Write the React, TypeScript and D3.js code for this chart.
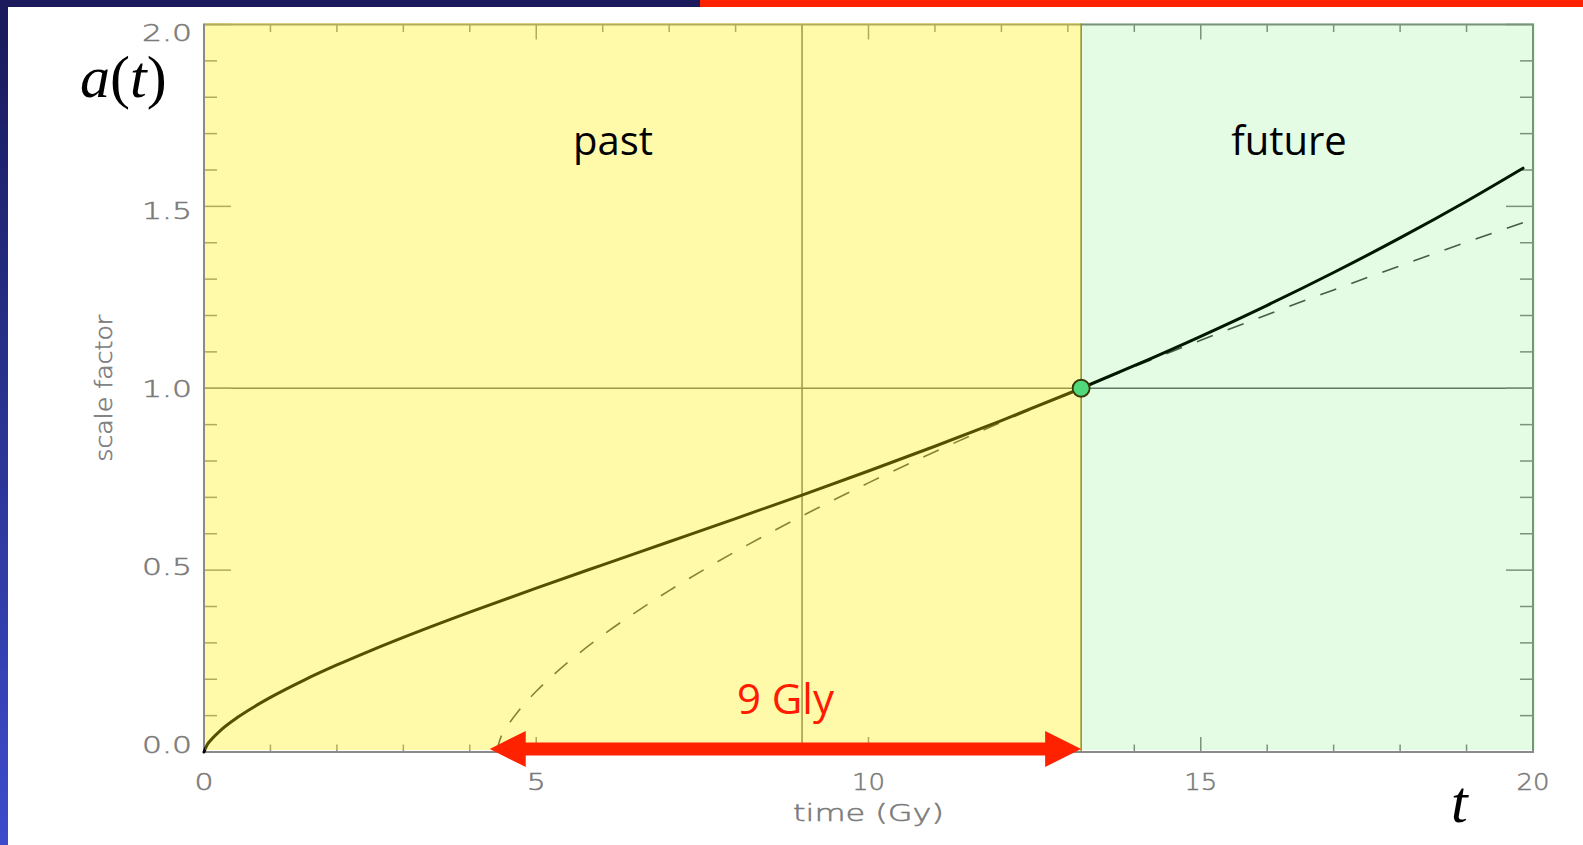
import React from 'react';
import * as d3 from 'd3';

// Scale factor of the universe, a(t), against cosmic time in Gy
const solidTime = [0, 0.05, 0.1, 0.25, 0.5, 0.75, 1, 1.5, 2, 2.5, 3, 4, 5, 6, 7, 8, 9, 10, 11, 12, 13, 13.2, 14, 15, 16, 17, 18, 19, 19.85];
const solidScale = [0, 0.0204, 0.0323, 0.0596, 0.0946, 0.1239, 0.1502, 0.1971, 0.2392, 0.2782, 0.3151, 0.3846, 0.4506, 0.5146, 0.5781, 0.6417, 0.7064, 0.7725, 0.8406, 0.9112, 0.9849, 1.0, 1.062, 1.1429, 1.2281, 1.3182, 1.4133, 1.5142, 1.605];

// Decelerating (matter-only) curve through today's point
const dashedTime = [4.4, 4.45, 4.6, 4.75, 5, 5.25, 5.5, 6, 6.5, 7, 8, 9, 10, 11, 12, 13.2, 14, 15, 16, 17, 18, 19, 20];
const dashedScale = [0, 0.0318, 0.0802, 0.1165, 0.1669, 0.2105, 0.25, 0.321, 0.3847, 0.4436, 0.5511, 0.6489, 0.7399, 0.8255, 0.9069, 1.0, 1.0597, 1.1321, 1.2023, 1.2704, 1.3367, 1.4015, 1.4648];

const today = 13.2;
const todayScale = 1.0;
const gridTime = 9;
const gridScale = 1.0;
const arrowFrom = 4.3;
const arrowTo = 13.2;

const timeDomain = [0, 20];
const scaleDomain = [0, 2];
const regionLabels = ['past', 'future'];

const W = 1583;
const H = 845;

export default function App() {
  const x = d3.scaleLinear().domain(timeDomain).range([204, 1533]);
  const y = d3.scaleLinear().domain(scaleDomain).range([752, 24.5]);
  // y tick labels sit slightly inside the extreme ticks
  const yLabel = d3.scaleLinear().domain(scaleDomain).range([745, 33]);

  const [x0, x1] = x.range();
  const [yb, yt] = y.range();

  const solidPts: [number, number][] = solidTime.map((t, i) => [t, solidScale[i]]);
  const dashedPts: [number, number][] = dashedTime.map((t, i) => [t, dashedScale[i]]);
  const line = d3
    .line<[number, number]>()
    .x((d) => x(d[0]))
    .y((d) => y(d[1]))
    .curve(d3.curveMonotoneX);

  const xMinor = x.ticks(20);
  const xMajor = x.ticks(4);
  const yMinor = y.ticks(20);
  const yMajor = y.ticks(4);
  const fmtY = d3.format('.1f');
  const fmtX = d3.format('d');

  const axisColor = '#8a8a8a';
  const tickLabelColor = '#7a7a7a';
  const xTickMajor = 15;
  const xTickMinor = 7.5;
  const yTickMajor = 27;
  const yTickMinor = 13;

  const xt = x(today);
  const arrowY = 749;
  const headLen = 36;
  const headHalf = 18;
  const shaftHalf = 6.5;
  const ax0 = x(arrowFrom);
  const ax1 = x(arrowTo);
  const arrowPath = [
    `M${ax0},${arrowY}`,
    `L${ax0 + headLen},${arrowY - headHalf}`,
    `L${ax0 + headLen},${arrowY - shaftHalf}`,
    `L${ax1 - headLen},${arrowY - shaftHalf}`,
    `L${ax1 - headLen},${arrowY - headHalf}`,
    `L${ax1},${arrowY}`,
    `L${ax1 - headLen},${arrowY + headHalf}`,
    `L${ax1 - headLen},${arrowY + shaftHalf}`,
    `L${ax0 + headLen},${arrowY + shaftHalf}`,
    `L${ax0 + headLen},${arrowY + headHalf}`,
    'Z',
  ].join(' ');

  const tickText = {
    fontFamily: "'DejaVu Sans', sans-serif",
    fontWeight: 200,
    fill: tickLabelColor,
    stroke: tickLabelColor,
    strokeWidth: 0.5,
  };

  return (
    <svg
      width={W}
      height={H}
      viewBox={`0 0 ${W} ${H}`}
      style={{ position: 'absolute', left: 0, top: 0, display: 'block' }}
    >
      <defs>
        <linearGradient id="sideBar" x1="0" y1="0" x2="0" y2="1">
          <stop offset="0" stopColor="#19195a" />
          <stop offset="0.45" stopColor="#28318c" />
          <stop offset="1" stopColor="#3d4bcc" />
        </linearGradient>
      </defs>
      <rect x={0} y={0} width={W} height={H} fill="#ffffff" />
      {/* slide frame */}
      <rect x={0} y={0} width={8} height={H} fill="url(#sideBar)" />
      <rect x={0} y={0} width={700} height={7} fill="#1a1a5c" />
      <rect x={700} y={0} width={W - 700} height={7} fill="#ff2200" />

      {/* reference lines */}
      <line x1={x(gridTime)} x2={x(gridTime)} y1={yt} y2={yb} stroke="#6e6e6e" strokeWidth={1.5} />
      <line x1={x0} x2={x1} y1={y(gridScale)} y2={y(gridScale)} stroke="#6e6e6e" strokeWidth={1.5} />

      {/* axes box */}
      <rect x={x0} y={yt} width={x1 - x0} height={yb - yt} fill="none" stroke={axisColor} strokeWidth={2} />

      {/* x ticks, bottom and top */}
      {xMinor.map((t) => {
        const len = xMajor.includes(t) ? xTickMajor : xTickMinor;
        return (
          <g key={`xt${t}`} stroke={axisColor} strokeWidth={1.5}>
            <line x1={x(t)} x2={x(t)} y1={yb} y2={yb - len} />
            <line x1={x(t)} x2={x(t)} y1={yt} y2={yt + len} />
          </g>
        );
      })}
      {/* y ticks, left and right */}
      {yMinor.map((v) => {
        const len = yMajor.some((m) => Math.abs(m - v) < 1e-9) ? yTickMajor : yTickMinor;
        return (
          <g key={`yt${v}`} stroke={axisColor} strokeWidth={1.5}>
            <line x1={x0} x2={x0 + len} y1={y(v)} y2={y(v)} />
            <line x1={x1} x2={x1 - len} y1={y(v)} y2={y(v)} />
          </g>
        );
      })}

      {/* curves */}
      <path d={line(dashedPts) || ''} fill="none" stroke="#4e4e4e" strokeWidth={1.6} strokeDasharray="17 16" />
      <path d={line(solidPts) || ''} fill="none" stroke="#000000" strokeWidth={3} strokeLinecap="round" />

      {/* past / future shading */}
      <rect x={x0 + 1} y={yt - 1.5} width={xt - x0 - 1} height={750 - yt + 1.5} fill="rgb(255,240,0)" fillOpacity={0.333} />
      <rect x={xt} y={yt - 1.5} width={x1 - xt + 2} height={750 - yt + 1.5} fill="rgb(0,226,0)" fillOpacity={0.106} />
      <line x1={xt} x2={xt} y1={yt - 1} y2={yb} stroke="#8e8e2a" strokeWidth={1.5} />

      {/* today */}
      <circle cx={x(today)} cy={y(todayScale)} r={8.5} fill="#4fd97a" stroke="#3a3a08" strokeWidth={1.8} />

      {/* tick labels */}
      {yMajor.map((v) => (
        <text
          key={`yl${v}`}
          x={192}
          y={yLabel(v)}
          dy="0.36em"
          textAnchor="end"
          fontSize={23}
          textLength={50}
          lengthAdjust="spacingAndGlyphs"
          {...tickText}
        >
          {fmtY(v)}
        </text>
      ))}
      {xMajor.map((t) => {
        const s = fmtX(t);
        return (
          <text
            key={`xl${t}`}
            x={x(t)}
            y={782}
            dy="0.36em"
            textAnchor="middle"
            fontSize={23}
            textLength={s.length > 1 ? 33 : 19}
            lengthAdjust="spacingAndGlyphs"
            {...tickText}
          >
            {s}
          </text>
        );
      })}
      <text
        x={(x0 + x1) / 2}
        y={813}
        dy="0.36em"
        textAnchor="middle"
        fontSize={23}
        textLength={151}
        lengthAdjust="spacingAndGlyphs"
        {...tickText}
      >
        time (Gy)
      </text>
      <text
        transform={`translate(104,${(yb + yt) / 2}) rotate(-90)`}
        dy="0.36em"
        textAnchor="middle"
        fontSize={23}
        textLength={147}
        lengthAdjust="spacingAndGlyphs"
        {...tickText}
      >
        scale factor
      </text>

      {/* region labels */}
      <text x={613} y={155} textAnchor="middle" fontFamily="'Open Sans', sans-serif" fontSize={40} fill="#000">
        {regionLabels[0]}
      </text>
      <text x={1289} y={155} textAnchor="middle" fontFamily="'Open Sans', sans-serif" fontSize={40} fill="#000">
        {regionLabels[1]}
      </text>

      {/* look-back interval */}
      <path d={arrowPath} fill="#ff2200" />
      <text x={(ax0 + ax1) / 2} y={714} textAnchor="middle" fontFamily="'Open Sans', sans-serif" fontSize={42} fill="#ff1a00">
        {`${Math.round(arrowTo - arrowFrom)} Gly`}
      </text>

      {/* symbols */}
      <text x={80} y={97} fontFamily="'Liberation Serif', 'Times New Roman', serif" fontSize={60} fill="#000">
        <tspan fontStyle="italic">a</tspan>
        <tspan>(</tspan>
        <tspan fontStyle="italic">t</tspan>
        <tspan>)</tspan>
      </text>
      <text x={1451} y={822} fontFamily="'Liberation Serif', 'Times New Roman', serif" fontStyle="italic" fontSize={60} fill="#000">
        t
      </text>
    </svg>
  );
}
